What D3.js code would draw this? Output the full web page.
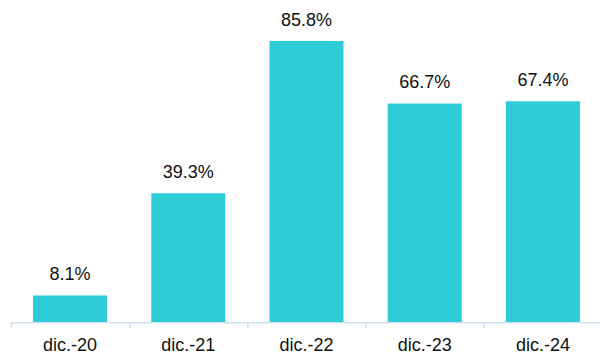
<!DOCTYPE html>
<html><head><meta charset="utf-8">
<script src="https://cdn.jsdelivr.net/npm/d3@7"></script>
<style>html,body{margin:0;padding:0;background:#fff;}svg{display:block;}</style>
</head><body>
<svg id="chart" width="600" height="356"></svg>
<script>
const categories = ["dic.-20","dic.-21","dic.-22","dic.-23","dic.-24"];
const values = [8.1, 39.3, 85.8, 66.7, 67.4];
const valueLabels = ["8.1%","39.3%","85.8%","66.7%","67.4%"];

const svg = d3.select("#chart");
const font = "Liberation Sans, Arial, sans-serif";
const baseY = 322;
const x = d3.scaleBand().domain(categories).range([11, 602]).paddingInner(0.374).paddingOuter(0.187);
const y = d3.scaleLinear().domain([0, d3.max(values)]).range([baseY, 41]);

svg.selectAll("rect.bar").data(values).join("rect")
  .attr("class","bar")
  .attr("x",(d,i)=>x(categories[i]))
  .attr("width",x.bandwidth())
  .attr("y",d=>y(d))
  .attr("height",d=>baseY-y(d))
  .attr("fill","#2ECCD6");

svg.selectAll("text.val").data(values).join("text")
  .attr("class","val")
  .attr("x",(d,i)=>x(categories[i])+x.bandwidth()/2)
  .attr("y",d=>y(d)-15.5)
  .attr("text-anchor","middle")
  .attr("font-family",font).attr("font-size",18).attr("fill","#111")
  .text((d,i)=>valueLabels[i]);

// x axis with ticks at band boundaries
const axisG = svg.append("g");
const x0 = 11, x1 = 602;
axisG.append("line").attr("x1",x0).attr("x2",x1).attr("y1",baseY+0.75).attr("y2",baseY+0.75)
  .attr("stroke","#cfe2f3").attr("stroke-width",1.5);
const bounds = categories.map(c => x(c) - x.step()*x.paddingInner()/2);
bounds.push(x1);
bounds[0] = x0;
axisG.selectAll("line.tick").data(bounds).join("line").attr("class","tick")
  .attr("x1",d=>d+0.5).attr("x2",d=>d+0.5).attr("y1",baseY).attr("y2",baseY+6)
  .attr("stroke","#cfe2f3").attr("stroke-width",1.5);
axisG.selectAll("text").data(categories).join("text")
  .attr("x",d=>x(d)+x.bandwidth()/2)
  .attr("y",350.5)
  .attr("text-anchor","middle")
  .attr("font-family",font).attr("font-size",18).attr("fill","#111")
  .text(d=>d);
</script>
</body></html>
